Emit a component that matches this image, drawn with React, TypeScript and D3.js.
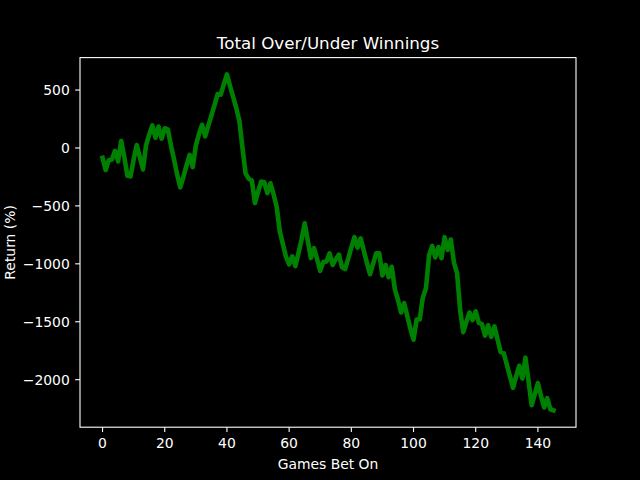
import React from "react";
import * as d3 from "d3";

const returns: number[] = [
  -85, -190, -105, -100, -25, -115, 60, -80, -240, -245,
  -100, 25, -80, -185, 25, 115, 195, 88, 185, 80,
  170, 160, 20, -100, -230, -340, -250, -150, -60, -165,
  20, 120, 200, 100, 190, 280, 370, 465, 460, 550,
  635, 535, 440, 345, 235, 0, -220, -265, -280, -475,
  -380, -290, -295, -390, -305, -400, -510, -720, -830, -940,
  -1005, -935, -1020, -910, -790, -650, -800, -950, -865, -960,
  -1060, -985, -980, -910, -1010, -960, -920, -1030, -1045, -955,
  -860, -770, -860, -780, -885, -990, -1090, -1000, -910, -910,
  -1100, -1010, -1115, -1025, -1220, -1310, -1420, -1340, -1450, -1560,
  -1655, -1480, -1480, -1290, -1210, -925, -845, -945, -855, -950,
  -770, -880, -790, -990, -1080, -1400, -1590, -1500, -1420, -1485,
  -1410, -1510, -1520, -1620, -1530, -1630, -1540, -1650, -1760, -1770,
  -1870, -1970, -2070, -1970, -1880, -1990, -1810, -2015, -2220, -2125,
  -2030, -2140, -2240, -2160, -2255, -2265,
];
const games: number[] = returns.map((_, i) => i);
const xTicks: number[] = [0, 20, 40, 60, 80, 100, 120, 140];
const yTicks: number[] = [500, 0, -500, -1000, -1500, -2000];
const title = "Total Over/Under Winnings";
const xLabel = "Games Bet On";
const yLabel = "Return (%)";

const W = 640, H = 480;
const L = 80, R = 576, T = 57.6, B = 427.2;
const FONT = "DejaVu Sans, sans-serif";

const fmt = (v: number) => (v < 0 ? "\u2212" + Math.abs(v) : String(v));

export default function App() {
  const xMin = d3.min(games)!, xMax = d3.max(games)!;
  const xPad = (xMax - xMin) * 0.05;
  const x = d3.scaleLinear().domain([xMin - xPad, xMax + xPad]).range([L, R]);
  const yMin = d3.min(returns)!, yMax = d3.max(returns)!;
  const yPad = (yMax - yMin) * 0.05;
  const y = d3.scaleLinear().domain([yMin - yPad, yMax + yPad]).range([B, T]);
  const line = d3
    .line<number>()
    .x((_, i) => x(games[i]))
    .y((d) => y(d));
  const tl = 4.86;
  return (
    <svg
      width={W}
      height={H}
      style={{ position: "absolute", left: 0, top: 0, display: "block" }}
      fontFamily={FONT}
    >
      <rect x={0} y={0} width={W} height={H} fill="#000" />
      <defs>
        <clipPath id="clip">
          <rect x={L} y={T} width={R - L} height={B - T} />
        </clipPath>
      </defs>
      <path
        d={line(returns) || ""}
        fill="none"
        stroke="#008000"
        strokeWidth={4.6}
        strokeLinejoin="round"
        strokeLinecap="square"
        clipPath="url(#clip)"
      />
      <rect x={L} y={T} width={R - L} height={B - T} fill="none" stroke="#fff" strokeWidth={1.1} />
      {xTicks.map((t) => (
        <g key={"x" + t}>
          <line x1={x(t)} x2={x(t)} y1={B} y2={B + tl} stroke="#fff" strokeWidth={1.1} />
          <text x={x(t)} y={B + 20.5} fill="#fff" fontSize={13.9} textAnchor="middle">
            {fmt(t)}
          </text>
        </g>
      ))}
      {yTicks.map((t) => (
        <g key={"y" + t}>
          <line x1={L - tl} x2={L} y1={y(t)} y2={y(t)} stroke="#fff" strokeWidth={1.1} />
          <text x={L - 2 * tl - 0.5} y={y(t)} dy="0.36em" fill="#fff" fontSize={13.9} textAnchor="end">
            {fmt(t)}
          </text>
        </g>
      ))}
      <text x={(L + R) / 2} y={49} fill="#fff" fontSize={16.7} textAnchor="middle">
        {title}
      </text>
      <text x={(L + R) / 2} y={469} fill="#fff" fontSize={13.9} textAnchor="middle">
        {xLabel}
      </text>
      <text
        transform={`translate(14.5, ${(T + B) / 2}) rotate(-90)`}
        fill="#fff"
        fontSize={13.9}
        textAnchor="middle"
      >
        {yLabel}
      </text>
    </svg>
  );
}
